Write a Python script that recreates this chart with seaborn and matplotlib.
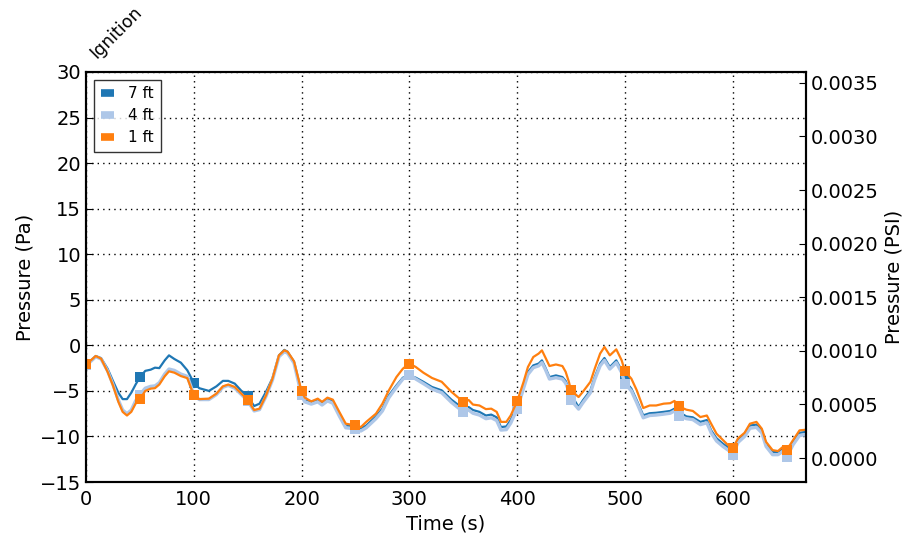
import matplotlib
matplotlib.use("Agg")
import matplotlib.pyplot as plt
from matplotlib.lines import Line2D
from matplotlib.ticker import FormatStrFormatter
import seaborn as sns
import pandas as pd
import numpy as np

time_s = [0, 5, 9, 14, 20, 25, 30, 34, 38, 42, 46, 50, 55, 60, 64, 68, 73, 77, 82, 88, 94,
          100, 105, 114, 121, 127, 132, 138, 145, 150, 156, 161, 167, 173, 179, 184, 187, 193,
          200, 203, 209, 215, 219, 224, 229, 235, 241, 250, 255, 260, 269, 275, 281, 288, 294,
          300, 306, 313, 321, 330, 339, 350, 355, 359, 365, 371, 376, 381, 385, 390, 394,
          400, 406, 410, 415, 420, 423, 426, 430, 436, 442, 445, 448, 450, 457, 461, 468, 472,
          477, 481, 486, 492, 497, 500, 506, 511, 517, 523, 529, 536, 542, 546, 550, 557, 563,
          570, 576, 580, 585, 591, 597, 600, 605, 611, 616, 622, 627, 631, 637, 642, 647, 650,
          656, 662, 668]

p_1ft = [-2.1, -1.6, -1.17, -1.46, -2.9, -4.4, -6.2, -7.3, -7.7, -7.3, -6.4, -5.9, -5.0, -4.75,
         -4.7, -4.3, -3.4, -2.85, -3.0, -3.37, -3.6,
         -5.5, -5.9, -5.85, -5.3, -4.5, -4.3, -4.57, -5.4, -6.0, -7.1, -6.95, -5.5, -3.66, -1.1,
         -0.55, -0.7, -1.75,
         -5.05, -5.74, -6.15, -5.85, -6.2, -5.74, -5.96, -7.3, -8.6, -8.78, -8.97, -8.4, -7.5,
         -6.4, -4.94, -3.48, -2.56,
         -2.0, -2.38, -3.0, -3.58, -4.0, -5.1, -6.2, -6.0, -6.5, -6.6, -7.0, -6.95, -7.3, -8.4,
         -8.4, -7.7,
         -6.15, -4.0, -2.38, -1.28, -0.9, -0.55, -1.28, -2.27, -2.1, -2.27, -2.9, -4.0, -4.94,
         -5.67, -5.1, -4.0, -2.56,
         -0.9, -0.18, -1.1, -0.44, -1.65, -2.85, -3.66, -4.94, -6.88, -6.6, -6.6, -6.4, -6.35,
         -6.1, -6.7, -7.06, -7.2,
         -7.87, -7.7, -8.6, -9.7, -10.4, -11.1, -11.3, -10.2, -9.6, -8.6, -8.4, -9.15, -10.6,
         -11.5, -11.6, -11.1, -11.5,
         -10.4, -9.33, -9.26]

p_7ft = [-2.1, -1.6, -1.17, -1.4, -2.56, -3.9, -5.2, -5.9, -5.9, -5.2, -4.3, -3.5, -2.8, -2.67,
         -2.45, -2.5, -1.65, -1.1, -1.5, -1.9, -2.74,
         -4.1, -4.7, -5.0, -4.5, -3.9, -3.9, -4.2, -5.1, -5.6, -6.66, -6.4, -5.1, -3.6, -1.1,
         -0.5, -0.7, -1.8,
         -5.2, -5.96, -6.2, -5.96, -6.3, -5.85, -6.1, -7.5, -8.8, -8.9, -9.15, -8.8, -7.8,
         -6.95, -5.5, -4.4, -3.55,
         -3.3, -3.55, -4.0, -4.57, -4.94, -5.96, -6.95, -6.77, -7.1, -7.3, -7.7, -7.6, -7.9,
         -8.97, -8.9, -8.2,
         -6.77, -4.4, -2.93, -2.2, -2.0, -1.65, -2.38, -3.48, -3.3, -3.48, -3.9, -4.75, -5.4,
         -6.77, -6.04, -4.94, -3.48,
         -2.0, -1.39, -2.38, -1.65, -2.74, -3.9, -4.75, -6.04, -7.68, -7.45, -7.4, -7.3, -7.2,
         -6.95, -7.3, -7.8, -7.9,
         -8.4, -8.2, -9.33, -10.2, -10.8, -11.3, -11.5, -10.35, -9.7, -8.8, -8.7, -9.3, -10.8,
         -11.7, -11.7, -11.3, -11.7,
         -10.6, -9.6, -9.5]

p_4ft = [-2.2, -1.7, -1.25, -1.5, -2.8, -4.3, -6.0, -7.1, -7.5, -7.1, -6.1, -5.4, -4.7, -4.5,
         -4.45, -4.1, -3.15, -2.6, -2.75, -3.15, -3.4,
         -5.4, -5.95, -5.95, -5.4, -4.6, -4.4, -4.7, -5.5, -6.1, -7.2, -7.05, -5.6, -3.8, -1.25,
         -0.7, -0.85, -1.95,
         -5.5, -6.2, -6.45, -6.2, -6.55, -6.1, -6.35, -7.75, -9.05, -9.15, -9.4, -9.05, -8.05,
         -7.2, -5.75, -4.6, -3.7,
         -3.2, -3.7, -4.2, -4.8, -5.2, -6.25, -7.3, -7.1, -7.45, -7.65, -8.05, -7.95, -8.25,
         -9.3, -9.25, -8.55,
         -7.0, -4.7, -3.2, -2.45, -2.25, -1.9, -2.6, -3.7, -3.55, -3.7, -4.15, -5.0, -6.0,
         -7.0, -6.3, -5.2, -3.75,
         -2.25, -1.65, -2.6, -1.9, -3.0, -4.2, -5.0, -6.3, -7.95, -7.7, -7.65, -7.55, -7.45,
         -7.2, -7.7, -8.05, -8.15,
         -8.7, -8.5, -9.6, -10.5, -11.1, -11.6, -12.0, -10.65, -10.0, -9.1, -9.0, -9.6, -11.1,
         -12.0, -12.0, -11.6, -12.3,
         -10.9, -9.9, -9.8]

series_labels = ["7 ft", "4 ft", "1 ft"]
series_colors = ["#1f77b4", "#aec7e8", "#ff7f0e"]

df = pd.DataFrame({"Time": time_s, "7 ft": p_7ft, "4 ft": p_4ft, "1 ft": p_1ft})
marker_idx = [i for i, t in enumerate(time_s) if t % 50 == 0]

sns.set_style("white")
plt.rcParams["font.family"] = ["DejaVu Sans"]
plt.rcParams["font.size"] = 14
for key in ["text.color", "axes.labelcolor", "xtick.color", "ytick.color", "axes.edgecolor"]:
    plt.rcParams[key] = "black"

fig = plt.figure(figsize=(9.13, 5.36), dpi=100)
ax = fig.add_axes([0.0942, 0.1007, 0.7886, 0.765])

widths = {"7 ft": 1.6, "4 ft": 2.4, "1 ft": 1.6}
for lab, col in zip(series_labels, series_colors):
    sns.lineplot(data=df, x="Time", y=lab, ax=ax, color=col, linewidth=widths[lab],
                 marker="s", markersize=6.5, markeredgewidth=0, markevery=marker_idx,
                 legend=False)

ax.set_xlim(0, 668)
ax.set_ylim(-15, 30)
ax.set_yticks(np.arange(-15, 31, 5))
ax.set_xticks(np.arange(0, 601, 100))
ax.set_xlabel("Time (s)", fontsize=14)
ax.set_ylabel("Pressure (Pa)", fontsize=14)
ax.grid(True, color="black", linestyle=(0, (1, 3)), linewidth=1.0)
ax.tick_params(direction="in", length=5, labelsize=14, color="black", labelcolor="black")
ax.tick_params(axis="x", pad=6)
for sp in ax.spines.values():
    sp.set_color("black")
    sp.set_linewidth(1.5)

ax2 = ax.twinx()
ax2.set_ylim(-0.000224, 0.003601)
ax2.set_yticks(np.arange(0, 0.00351, 0.0005))
ax2.yaxis.set_major_formatter(FormatStrFormatter("%.4f"))
ax2.tick_params(direction="in", length=5, labelsize=14, color="black", labelcolor="black")
ax2.set_ylabel("Pressure (PSI)", fontsize=14, color="black")
for sp in ax2.spines.values():
    sp.set_color("black")
    sp.set_linewidth(1.5)

ax.text(0.2, 31.1, "Ignition", rotation=45, fontsize=12.5, ha="left", va="bottom",
        color="black", transform=ax.transData)

handles = [Line2D([0], [0], color=c, linewidth=5.5, solid_capstyle="butt") for c in series_colors]
leg = ax.legend(handles, series_labels, loc="upper left", fontsize=11,
                handlelength=0.9, handletextpad=0.9, borderpad=0.45,
                labelspacing=0.45, borderaxespad=0.5, fancybox=False, frameon=True)
leg.get_frame().set_edgecolor("black")
leg.get_frame().set_linewidth(1.0)
for t in leg.get_texts():
    t.set_color("black")

fig.savefig("out.png", dpi=100)
